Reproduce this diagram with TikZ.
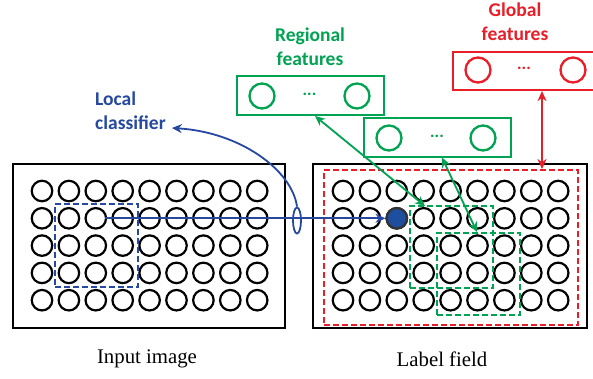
\documentclass[tikz,border=0pt]{standalone}
\usepackage{fontspec}
\setmainfont{Liberation Serif}
\newfontfamily\labfont{Carlito}
\usetikzlibrary{arrows.meta,calc,shapes.geometric}
\definecolor{cblue}{RGB}{38,72,160}
\definecolor{cdot}{RGB}{30,78,158}
\definecolor{cgreen}{RGB}{0,163,82}
\definecolor{cred}{RGB}{234,30,40}
\begin{document}
\begin{tikzpicture}[x=1pt,y=-1pt,
  pix/.style={circle,draw,line width=2.2pt,minimum size=20.5pt,inner sep=0pt},
  feat/.style={circle,draw,line width=2.3pt,minimum size=25pt,inner sep=0pt},
  frame/.style={draw,line width=2.2pt,rectangle,inner sep=0pt},
  win/.style={draw,line width=2pt,dash pattern=on 6pt off 3pt,rectangle,inner sep=0pt},
  link/.style={line width=1.8pt},
  tipb/.style={-{Stealth[length=10pt,width=9pt]}},
  tipbb/.style={{Stealth[length=10pt,width=9pt]}-{Stealth[length=10pt,width=9pt]}},
  lab/.style={font=\labfont\bfseries\fontsize{19.5}{24}\selectfont,align=left,inner sep=0pt},
  captext/.style={font=\fontsize{20.8}{24}\selectfont,inner sep=0pt},
  dots/.style={font=\labfont\bfseries\fontsize{17}{17}\selectfont,inner sep=0pt}]
\clip (0,0) rectangle (593,378);
\fill[white] (0,0) rectangle (593,378);

% image frames
\node[frame,minimum width=272pt,minimum height=164pt] (inbox) at (149,246) {};
\node[frame,minimum width=274pt,minimum height=164pt] (lfbox) at (450,246) {};

% pixel grids
\foreach \r/\y in {1/191,2/218.3,3/245.6,4/272.9,5/300.2}{
  \foreach \c in {1,...,9}{
    \node[pix] (L-\r-\c) at ({42+26.9*(\c-1)},\y) {};
    \node[pix] (R-\r-\c) at ({343+26.9*(\c-1)},\y) {};
  }
}
% labelled site
\node[pix,fill=cdot,draw=black!80] (site) at (R-2-3) {};

% windows
\node[win,draw=cblue,minimum width=83pt,minimum height=83pt] (bwin) at (96.5,245.5) {};
\node[win,draw=cgreen,minimum width=83pt,minimum height=82pt] (gwin1) at (451.5,247) {};
\node[win,draw=cgreen,minimum width=83pt,minimum height=82pt] (gwin2) at (478.5,274) {};
\node[win,draw=cred,minimum width=254pt,minimum height=155pt] (rwin) at (451,247.5) {};

% feature vectors
\node[frame,draw=cgreen,minimum width=147pt,minimum height=39pt] (regA) at (310.5,95.5) {};
\node[feat,draw=cgreen] (regA1) at (262,96) {};
\node[feat,draw=cgreen] (regA2) at (357,96) {};
\node[dots,text=cgreen] (regAd) at (309.5,94) {...};

\node[frame,draw=cgreen,minimum width=147pt,minimum height=39pt] (regB) at (437.5,137.5) {};
\node[feat,draw=cgreen] (regB1) at (389,138) {};
\node[feat,draw=cgreen] (regB2) at (483,138) {};
\node[dots,text=cgreen] (regBd) at (437,136) {...};

\node[frame,draw=cred,minimum width=146pt,minimum height=38pt] (glob) at (526,71) {};
\node[feat,draw=cred] (glob1) at (478,70) {};
\node[feat,draw=cred] (glob2) at (573,70) {};
\node[dots,text=cred] (globd) at (524,68) {...};

% texts
\node[lab,text=cblue,anchor=west] (loc) at (95,111) {Local\\classifier};
\node[lab,text=cgreen,align=center] (regt) at (310,47) {Regional\\features};
\node[lab,text=cred,align=center] (globt) at (515,22) {Global\\features};
\node[captext] (int) at (147,359) {Input image};
\node[captext] (lft) at (442,359) {Label field};

% local classifier
\coordinate (lstart) at (105,218.3);
\node[draw=cblue,line width=1.8pt,ellipse,minimum width=8pt,minimum height=26pt,inner sep=0pt] (ring) at (297,220.5) {};
\draw[cblue,link,tipb] (lstart) -- (site.west);
\draw[cblue,link,tipb] (ring.north) .. controls (292,170) and (240,132) .. ($(loc.east)+(6,17)$);

% regional and global links
\coordinate (g1top) at (425,206);
\coordinate (g2top) at (477,232);
\coordinate (rAbot) at (315,116);
\coordinate (rBbot) at (442,157.5);
\draw[cgreen,link,tipbb] (rAbot) -- (g1top);
\draw[cgreen,link,tipbb] (rBbot) -- (g2top);
\draw[cred,link,tipbb] (glob.south -| 542,0) -- (rwin.north -| 542,0);
\end{tikzpicture}
\end{document}
